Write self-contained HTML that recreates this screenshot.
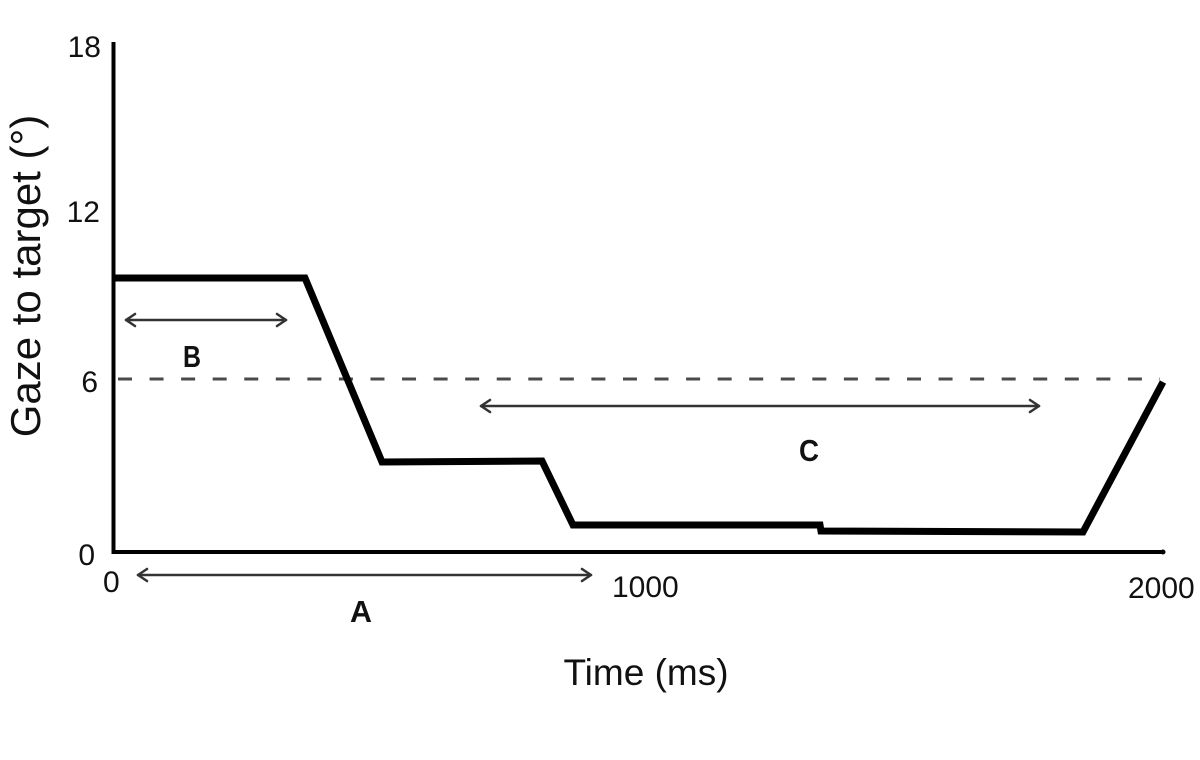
<!DOCTYPE html>
<html>
<head>
<meta charset="utf-8">
<style>
  html, body { margin: 0; padding: 0; background: #ffffff; }
  svg { display: block; }
</style>
</head>
<body>
<svg width="1200" height="760" viewBox="0 0 1200 760" xmlns="http://www.w3.org/2000/svg">
  <rect width="1200" height="760" fill="#ffffff"/>

  <!-- dashed threshold line at 6 -->
  <line x1="118" y1="379" x2="1160" y2="379" stroke="#4a4a4a" stroke-width="3" stroke-dasharray="14 17.56"/>

  <!-- axes -->
  <line x1="113.5" y1="42" x2="113.5" y2="554" stroke="#000" stroke-width="4"/>
  <line x1="111.5" y1="552" x2="1163" y2="552" stroke="#000" stroke-width="4"/>
  <circle cx="1163" cy="552" r="2.5" fill="#000"/>

  <!-- data line -->
  <polyline points="113,278 305,278 382,462 542,461 573,525 820,525 821,531 1083,532 1163,382"
            fill="none" stroke="#000" stroke-width="7" stroke-linejoin="miter" stroke-miterlimit="4"/>

  <!-- arrows -->
  <g stroke="#333" stroke-width="2.5" fill="none" stroke-linecap="round" stroke-linejoin="round">
    <!-- B -->
    <line x1="126" y1="320" x2="286" y2="320"/>
    <polyline points="135,314 126,320 135,326"/>
    <polyline points="277,314 286,320 277,326"/>
    <!-- C -->
    <line x1="481" y1="406" x2="1039" y2="406"/>
    <polyline points="490,400 481,406 490,412"/>
    <polyline points="1030,400 1039,406 1030,412"/>
    <!-- A -->
    <line x1="138" y1="575" x2="591" y2="575"/>
    <polyline points="147,569 138,575 147,581"/>
    <polyline points="582,569 591,575 582,581"/>
  </g>

  <!-- arrow letters -->
  <g font-family="'Liberation Sans', Arial, sans-serif" font-weight="bold" font-size="31" fill="#111">
    <text x="183" y="367" textLength="18" lengthAdjust="spacingAndGlyphs">B</text>
    <text x="799" y="461" textLength="20" lengthAdjust="spacingAndGlyphs">C</text>
    <text x="350" y="622" textLength="22" lengthAdjust="spacingAndGlyphs">A</text>
  </g>

  <!-- y tick labels -->
  <g font-family="'Liberation Sans', Arial, sans-serif" font-size="30" fill="#111" text-anchor="end">
    <text x="101" y="57">18</text>
    <text x="100" y="222">12</text>
    <text x="98" y="392">6</text>
    <text x="95" y="565">0</text>
  </g>

  <!-- x tick labels -->
  <g font-family="'Liberation Sans', Arial, sans-serif" font-size="30" fill="#111">
    <text x="103" y="592">0</text>
    <text x="612" y="597">1000</text>
    <text x="1128" y="598">2000</text>
  </g>

  <!-- axis titles -->
  <text x="646" y="685" font-family="'Liberation Sans', Arial, sans-serif" font-size="37" fill="#111" text-anchor="middle">Time (ms)</text>
  <text transform="translate(40,276) rotate(-90)" x="0" y="0" font-family="'Liberation Sans', Arial, sans-serif" font-size="42" fill="#111" text-anchor="middle">Gaze to target (°)</text>
</svg>
</body>
</html>
